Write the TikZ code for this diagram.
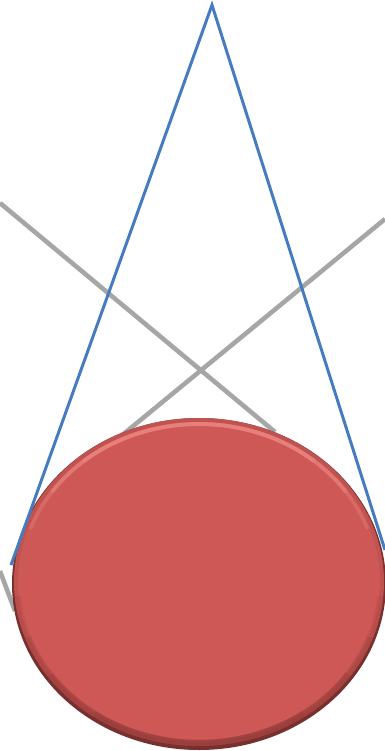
\documentclass[tikz,border=0pt]{standalone}
\usepackage{tikz}
\usepackage{xcolor}
\definecolor{ropeblue}{RGB}{70,124,191}
\definecolor{wiregray}{RGB}{166,166,166}
\definecolor{ballred}{RGB}{205,88,85}
\definecolor{balldark}{RGB}{120,48,46}
\definecolor{balllight}{RGB}{236,134,130}

\begin{document}
\begin{tikzpicture}[x=0.02cm,y=-0.02cm]
                \useasboundingbox (0,0) rectangle (385,751);
                \coordinate (apex) at (212,5);
                \coordinate (ropeL) at (11,565);
                \coordinate (ropeR) at (385,550);
                \coordinate (wireA) at (0,203);
                \coordinate (wireAend) at (275,432);
                \coordinate (wireB) at (385,219);
                \coordinate (wireBend) at (115,441);
                \coordinate (wireC) at (0,571);
                \coordinate (wireCend) at (15,611);
                \coordinate (ball) at (199,582);
                % gray wires behind the ball
                \draw[wiregray, line width=2.6pt] (wireA)--(wireAend) (wireB)--(wireBend) (wireC)--(wireCend);
                % the ball
                \fill[balldark] ([yshift=-2*0.02cm]ball) ellipse (187 and 166);
                \fill[ballred!85!balldark] (ball) ellipse (185 and 164);
                \fill[ballred] (ball) ellipse (181 and 160);
                % darker rim at the bottom
                \foreach \a/\b/\o in {5/175/0.12, 20/160/0.15, 35/145/0.18, 55/125/0.2} {
                    \draw[balldark, line width=3.5pt, opacity=\o] ([shift={(\a:182 and 161)}]ball) arc (\a:\b:182 and 161);
                }
                % light rim at the top
                \foreach \a/\b/\o in {200/340/0.35, 215/325/0.5, 230/310/0.6} {
                    \draw[balllight, line width=2.2pt, line cap=round, opacity=\o] ([shift={(\a:179 and 158)}]ball) arc (\a:\b:179 and 158);
                }
                % blue strings on top
                \draw[ropeblue, line width=1.7pt] (ropeL)--(apex)--(ropeR);
            \end{tikzpicture}
\end{document}
